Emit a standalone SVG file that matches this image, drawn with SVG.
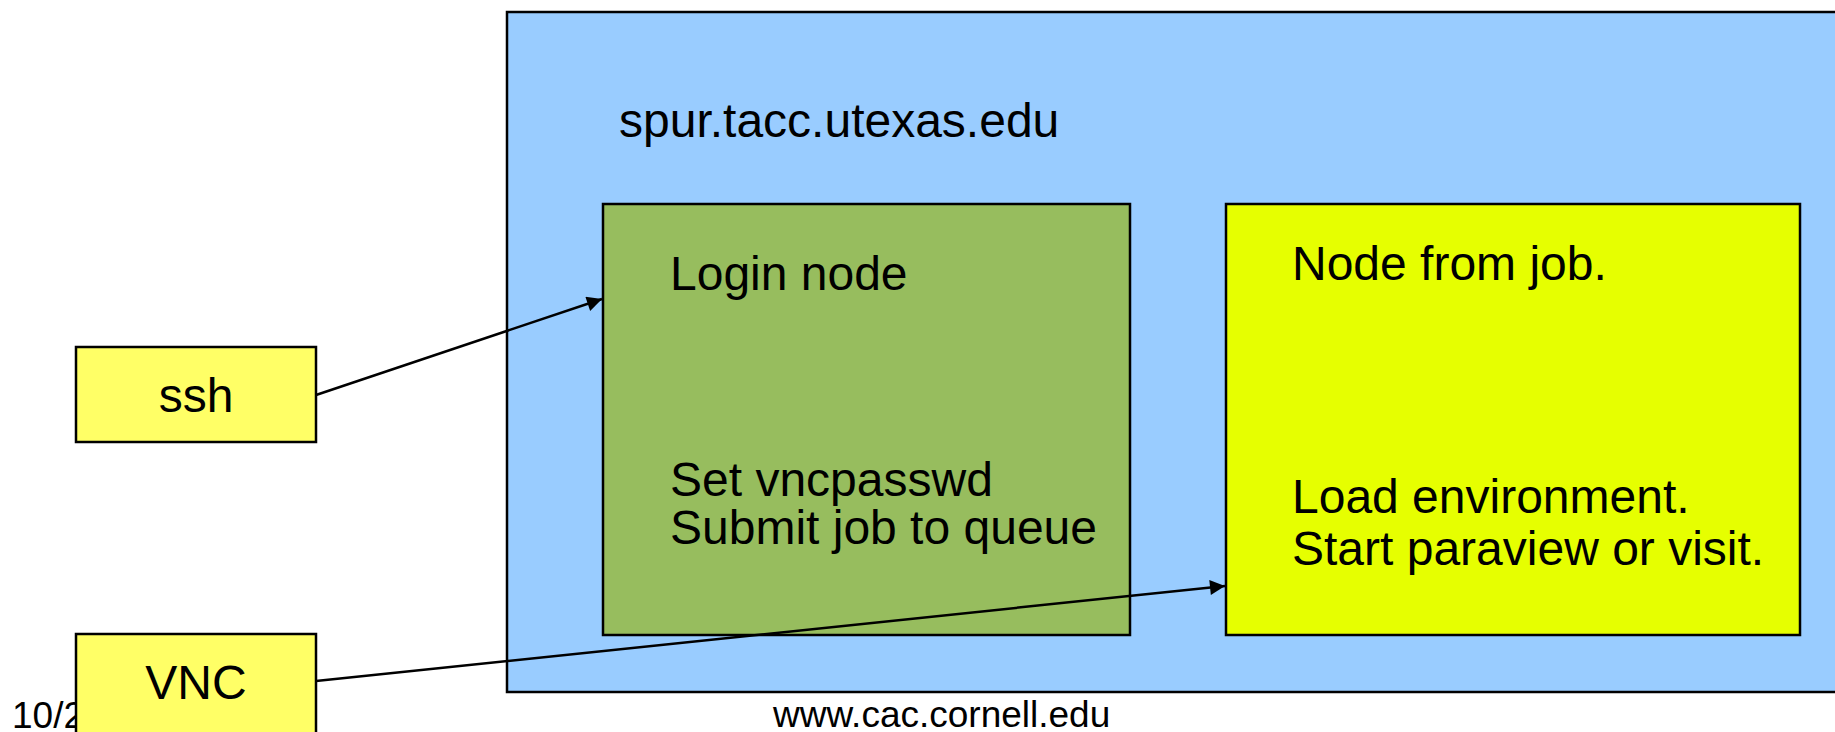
<svg xmlns="http://www.w3.org/2000/svg" width="1835" height="732" viewBox="0 0 1835 732">
<style>
text{font-family:"Liberation Sans",Arial,sans-serif;fill:#000}
.big{font-size:48px}
.foot{font-size:37px}
.box{stroke:#000;stroke-width:2.5}
.conn{stroke:#000;stroke-width:2.5;fill:none}
</style>
<defs>
<marker id="arr" viewBox="0 0 10 10" refX="10" refY="5" markerWidth="7" markerHeight="6" markerUnits="strokeWidth" orient="auto">
<path d="M0,0 L10,5 L0,10 z" fill="#000"/>
</marker>
</defs>
<rect width="1835" height="732" fill="#fff"/>
<text class="foot" x="12" y="728">10/2</text>
<text class="foot" x="773" y="727">www.cac.cornell.edu</text>
<g id="spur">
<rect class="box" x="507" y="12" width="1340" height="680" fill="#99CCFF" stroke-width="3"/>
<text class="big" x="619" y="137">spur.tacc.utexas.edu</text>
</g>
<g id="login">
<rect class="box" x="603" y="204" width="527" height="431" fill="#97BD5E"/>
<text class="big" x="670" y="290">Login node</text>
<text class="big" x="670" y="496">Set vncpasswd</text>
<text class="big" x="670" y="544">Submit job to queue</text>
</g>
<g id="jobnode">
<rect class="box" x="1226" y="204" width="574" height="431" fill="#E6FF00"/>
<text class="big" x="1292" y="280">Node from job.</text>
<text class="big" x="1292" y="513">Load environment.</text>
<text class="big" x="1292" y="565">Start paraview or visit.</text>
</g>
<g id="ssh">
<rect class="box" x="76" y="347" width="240" height="95" fill="#FFFF66"/>
<text class="big" x="196" y="412" text-anchor="middle">ssh</text>
</g>
<g id="vnc">
<rect class="box" x="76" y="634" width="240" height="100" fill="#FFFF66"/>
<text class="big" x="196" y="699" text-anchor="middle">VNC</text>
</g>
<g id="connectors">
<line class="conn" x1="316" y1="395" x2="602" y2="299" marker-end="url(#arr)"/>
<line class="conn" x1="316" y1="681" x2="1225" y2="586" marker-end="url(#arr)"/>
</g>
</svg>
